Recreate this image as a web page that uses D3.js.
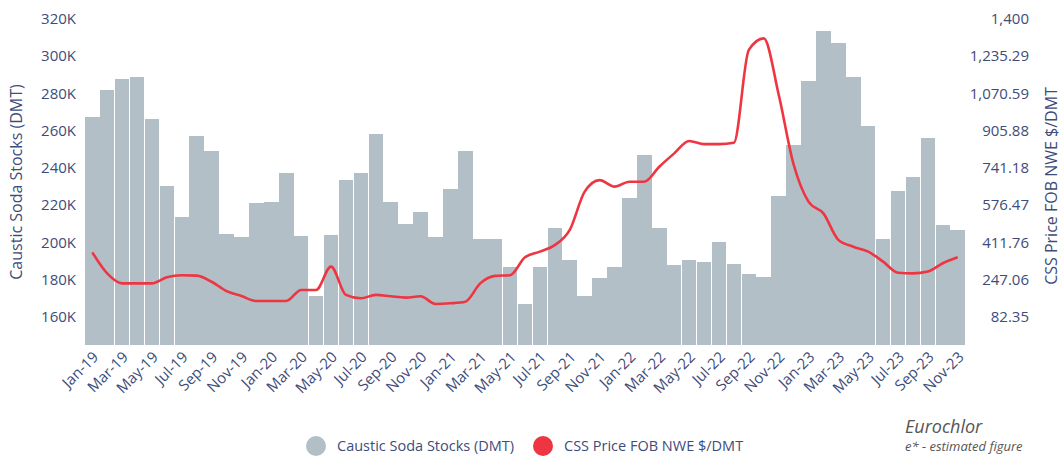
<!DOCTYPE html>
<html>
<head>
<meta charset="utf-8">
<script src="https://cdn.jsdelivr.net/npm/d3@7"></script>
<style>
  body { margin: 0; background: #fff; }
  svg text { font-family: "Open Sans", sans-serif; }
</style>
</head>
<body>
<div id="chart"></div>
<script>
// months on the x axis
var months = ["Jan-19","Feb-19","Mar-19","Apr-19","May-19","Jun-19","Jul-19","Aug-19","Sep-19","Oct-19","Nov-19","Dec-19",
              "Jan-20","Feb-20","Mar-20","Apr-20","May-20","Jun-20","Jul-20","Aug-20","Sep-20","Oct-20","Nov-20","Dec-20",
              "Jan-21","Feb-21","Mar-21","Apr-21","May-21","Jun-21","Jul-21","Aug-21","Sep-21","Oct-21","Nov-21","Dec-21",
              "Jan-22","Feb-22","Mar-22","Apr-22","May-22","Jun-22","Jul-22","Aug-22","Sep-22","Oct-22","Nov-22","Dec-22",
              "Jan-23","Feb-23","Mar-23","Apr-23","May-23","Jun-23","Jul-23","Aug-23","Sep-23","Oct-23","Nov-23"];

// caustic soda stocks, DMT
var stocks = [267500,281500,287800,288500,266000,230000,213800,257200,248800,204700,202700,221000,
              221700,237100,203300,171100,204000,233300,237100,258000,221700,209900,216500,202700,
              228800,248800,201700,201700,186600,167200,186600,207900,190600,171100,180800,186600,
              223700,246900,207900,187700,190600,189700,200100,188400,183200,181500,224700,252100,
              286600,313200,306800,288500,262600,202000,227400,235300,256200,209200,206700];

// CSS price FOB NWE $/DMT
var price = [368,275,231,231,231,258,267,265,238,197,175,153,
             153,153,202,202,305,180,165,180,174,168,174,140,
             143,150,231,264,267,346,371,400,467,636,687,658,
             680,680,746,805,860,846,846,852,1262,1313,1065,757,
             592,540,423,393,371,327,278,275,283,320,346];

var leftTicks = [160000,180000,200000,220000,240000,260000,280000,300000,320000];
var rightTicks = [82.35,247.06,411.76,576.47,741.18,905.88,1070.59,1235.29,1400];

function init(){
    var W = 1062, H = 459;
    var left = 85, right = 965, top = 0, bottom = 345;
    var textCol = "#3e4c7a";

    var svg = d3.select("#chart").append("svg")
                .attr("width", W)
                .attr("height", H);

    var x = d3.scaleBand()
              .domain(months)
              .range([left, right])
              .paddingInner(0.024)
              .paddingOuter(0);

    var yL = d3.scaleLinear().domain([145000, 330000]).range([bottom, top]);
    var yR = d3.scaleLinear().domain([-41.18, 1482.35]).range([bottom, top]);

    // bars
    svg.append("g").selectAll("rect")
        .data(stocks)
        .enter()
        .append("rect")
        .attr("x", function(d, i){ return x(months[i]); })
        .attr("y", function(d){ return yL(d); })
        .attr("width", x.bandwidth())
        .attr("height", function(d){ return bottom - yL(d); })
        .attr("fill", "#b2bfc6")
        .attr("shape-rendering", "crispEdges");

    // price line
    var line = d3.line()
                 .x(function(d, i){ return x(months[i]) + x.bandwidth() / 2; })
                 .y(function(d){ return yR(d); })
                 .curve(d3.curveMonotoneX);

    svg.append("path")
        .datum(price)
        .attr("d", line)
        .attr("fill", "none")
        .attr("stroke", "#ee3542")
        .attr("stroke-width", 2.6);

    // left axis
    var axL = d3.axisLeft(yL).tickValues(leftTicks).tickSize(0).tickPadding(9)
                .tickFormat(function(d){ return (d / 1000) + "K"; });
    var gL = svg.append("g").attr("transform", "translate(" + left + ",0)").call(axL);
    gL.select(".domain").remove();
    gL.selectAll("text").attr("fill", textCol).style("font-size", "15px");

    // right axis, labels aligned to the right
    var axR = d3.axisRight(yR).tickValues(rightTicks).tickSize(0).tickPadding(0)
                .tickFormat(function(d){ return d === 1400 ? "1,400" : d3.format(",.2f")(d); });
    var gR = svg.append("g").attr("transform", "translate(1029,0)").call(axR);
    gR.select(".domain").remove();
    gR.selectAll("text").attr("fill", textCol).style("font-size", "15px").attr("text-anchor", "end");

    // x axis labels, every second month
    var axX = d3.axisBottom(x)
                .tickValues(months.filter(function(d, i){ return i % 2 === 0; }))
                .tickSize(0);
    var gX = svg.append("g").attr("transform", "translate(0," + bottom + ")").call(axX);
    gX.select(".domain").remove();
    gX.selectAll("text")
        .attr("fill", textCol)
        .style("font-size", "15px")
        .attr("text-anchor", "end")
        .attr("dy", null)
        .attr("y", 0)
        .attr("transform", "translate(7,13) rotate(-45)");

    // axis titles
    svg.append("text")
        .attr("transform", "translate(22,182) rotate(-90)")
        .attr("text-anchor", "middle")
        .attr("fill", textCol)
        .style("font-size", "16px")
        .text("Caustic Soda Stocks (DMT)");

    svg.append("text")
        .attr("transform", "translate(1057,186) rotate(-90)")
        .attr("text-anchor", "middle")
        .attr("fill", textCol)
        .style("font-size", "16px")
        .text("CSS Price FOB NWE $/DMT");

    // legend
    var legend = [{label: "Caustic Soda Stocks (DMT)", color: "#b2bfc6", cx: 316},
                  {label: "CSS Price FOB NWE $/DMT", color: "#ee3542", cx: 543}];
    var lg = svg.append("g").selectAll("g").data(legend).enter().append("g");
    lg.append("circle")
        .attr("cx", function(d){ return d.cx; })
        .attr("cy", 446)
        .attr("r", 10)
        .attr("fill", function(d){ return d.color; });
    lg.append("text")
        .attr("x", function(d){ return d.cx + 21; })
        .attr("y", 451)
        .attr("fill", textCol)
        .style("font-size", "14.5px")
        .text(function(d){ return d.label; });

    // source notes
    svg.append("text")
        .attr("x", 905).attr("y", 433)
        .attr("fill", "#555")
        .style("font-size", "18px")
        .style("font-style", "italic")
        .text("Eurochlor");
    svg.append("text")
        .attr("x", 905).attr("y", 451)
        .attr("fill", "#555")
        .style("font-size", "13px")
        .style("font-style", "italic")
        .text("e* - estimated figure");
}
window.onload = init;
</script>
</body>
</html>
